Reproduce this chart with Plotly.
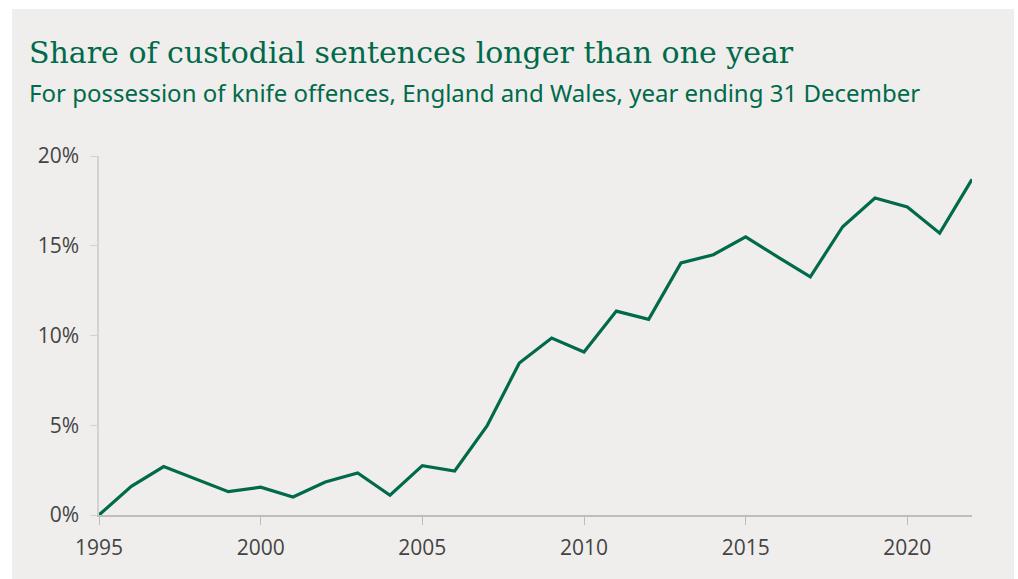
import plotly.graph_objects as go

years = list(range(1995, 2023))
share = [0.0, 1.6, 2.7, 2.0, 1.3, 1.55, 1.0, 1.84, 2.34, 1.1, 2.75, 2.45,
         4.96, 8.47, 9.86, 9.08, 11.36, 10.9, 14.04, 14.5, 15.5, 14.37, 13.27,
         16.06, 17.66, 17.16, 15.7, 18.7]
y_ticks = [0, 5, 10, 15, 20]
y_labels = ["0%", "5%", "10%", "15%", "20%"]
x_ticks = [1995, 2000, 2005, 2010, 2015, 2020]

title_text = "Share of custodial sentences longer than one year"
subtitle_text = "For possession of knife offences, England and Wales, year ending 31 December"

GREEN = "#006A4A"
BG = "#EFEEEC"
W, H = 1018, 579
L, R, T, B = 99, 46, 156, 64
pw, ph = W - L - R, H - T - B

def px(x):
    return (x - L) / pw

def py(y):
    return (H - B - y) / ph

fig = go.Figure()
fig.add_trace(go.Scatter(x=years, y=share, mode="lines",
                         line=dict(color=GREEN, width=3.2), hoverinfo="x+y"))

fig.update_layout(
    width=W, height=H,
    margin=dict(l=L, r=R, t=T, b=B),
    paper_bgcolor="white",
    plot_bgcolor=BG,
    showlegend=False,
    xaxis=dict(range=[1995, 2022], tickvals=x_ticks, showgrid=False, zeroline=False,
               showline=True, linecolor="#BDBDBB", linewidth=1.5,
               ticks="outside", ticklen=8, tickcolor="#BDBDBB", tickwidth=1,
               ticklabelstandoff=5,
               tickfont=dict(family="Open Sans", size=21, color="#444444")),
    yaxis=dict(range=[0, 20], tickvals=y_ticks, ticktext=y_labels, showgrid=False,
               zeroline=False, showline=True, linecolor="#D2D2D0", linewidth=1.5,
               ticks="outside", ticklen=7, tickcolor="#D2D2D0", tickwidth=1,
               ticklabelstandoff=7,
               tickfont=dict(family="Open Sans", size=21, color="#444444")),
    shapes=[dict(type="rect", xref="paper", yref="paper", layer="below",
                 x0=px(12), x1=px(1014), y0=py(579), y1=py(9),
                 fillcolor=BG, line=dict(width=0))],
    annotations=[
        dict(text=title_text, xref="paper", yref="paper", x=px(27), y=py(33),
             xanchor="left", yanchor="top", showarrow=False,
             font=dict(family="DejaVu Serif", size=30, color=GREEN)),
        dict(text=subtitle_text, xref="paper", yref="paper", x=px(27), y=py(74),
             xanchor="left", yanchor="top", showarrow=False,
             font=dict(family="Noto Sans", size=24, color=GREEN)),
    ],
)

fig.write_html("out.html")
